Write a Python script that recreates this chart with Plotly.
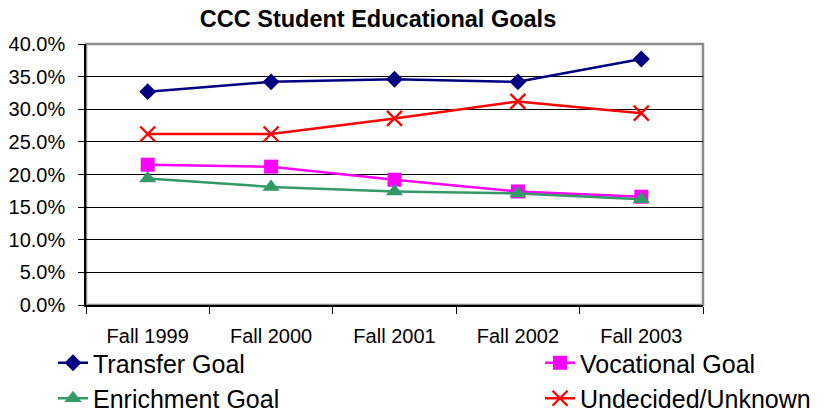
import plotly.graph_objects as go

categories = ["Fall 1999", "Fall 2000", "Fall 2001", "Fall 2002", "Fall 2003"]
transfer = [0.327, 0.342, 0.346, 0.342, 0.377]
vocational = [0.215, 0.212, 0.192, 0.174, 0.166]
enrichment = [0.194, 0.181, 0.174, 0.171, 0.162]
undecided = [0.262, 0.262, 0.286, 0.312, 0.294]

FONT = "Liberation Sans, Arial, sans-serif"

# page body adds an 8px margin, so the figure is sized/positioned to compensate
W, H = 816, 403

fig = go.Figure()
fig.add_trace(go.Scatter(x=categories, y=transfer, name="Transfer Goal", mode="lines+markers",
                         line=dict(color="#000080", width=2.5),
                         marker=dict(symbol="diamond", size=13, color="#000080"),
                         legend="legend", legendgroup="a"))
fig.add_trace(go.Scatter(x=categories, y=vocational, name="Vocational Goal", mode="lines+markers",
                         line=dict(color="#FF00FF", width=2.5),
                         marker=dict(symbol="square", size=14, color="#FF00FF"),
                         legend="legend2", legendgroup="b"))
fig.add_trace(go.Scatter(x=categories, y=enrichment, name="Enrichment Goal", mode="lines+markers",
                         line=dict(color="#339966", width=2.5),
                         marker=dict(symbol="triangle-up", size=15, color="#339966"),
                         legend="legend", legendgroup="c"))
fig.add_trace(go.Scatter(x=categories, y=undecided, name="Undecided/Unknown", mode="lines+markers",
                         line=dict(color="#FF0000", width=2.5),
                         marker=dict(symbol="x-thin-open", size=15, color="#FF0000",
                                     line=dict(color="#FF0000", width=2.3)),
                         legend="legend2", legendgroup="d"))

fig.add_shape(type="rect", xref="x domain", yref="y domain", x0=0, x1=1, y0=0, y1=1,
              line=dict(color="#8c8c8c", width=2.5), layer="below")

fig.update_layout(
    width=W, height=H,
    margin=dict(l=78, r=121, t=36, b=106, autoexpand=False),
    paper_bgcolor="white", plot_bgcolor="white",
    font=dict(family=FONT, color="black"),
    title=dict(text="<b>CCC Student Educational Goals</b>", x=370 / W, xanchor="center",
               xref="container", yref="container", y=1 - 11 / H, yanchor="middle",
               font=dict(size=23.5, family=FONT, color="black")),
    xaxis=dict(type="category", range=[-0.5, 4.5], showgrid=False, showline=True,
               linecolor="black", linewidth=1.5, ticks="outside", tickson="boundaries",
               ticklen=7, tickcolor="black", tickwidth=1.2, ticklabelstandoff=12,
               tickangle=0, automargin=False,
               tickfont=dict(size=20, family=FONT, color="black")),
    yaxis=dict(range=[0, 0.4], dtick=0.05, tickformat=".1%", showgrid=True,
               gridcolor="black", gridwidth=1, showline=True, linecolor="black",
               linewidth=1.5, ticks="outside", ticklen=6, tickcolor="black", automargin=False,
               ticklabelstandoff=9,
               tickfont=dict(size=20, family=FONT, color="black"), zeroline=False),
    legend=dict(orientation="v", x=45 / W, xanchor="left", y=1 - 332 / H, yanchor="top",
                xref="container", yref="container", font=dict(size=25, family=FONT, color="black"),
                tracegroupgap=0, bgcolor="rgba(0,0,0,0)", itemwidth=30),
    legend2=dict(orientation="v", x=532 / W, xanchor="left", y=1 - 332 / H, yanchor="top",
                 xref="container", yref="container", font=dict(size=25, family=FONT, color="black"),
                 tracegroupgap=0, bgcolor="rgba(0,0,0,0)", itemwidth=30),
)

fig.write_html("out.html")
